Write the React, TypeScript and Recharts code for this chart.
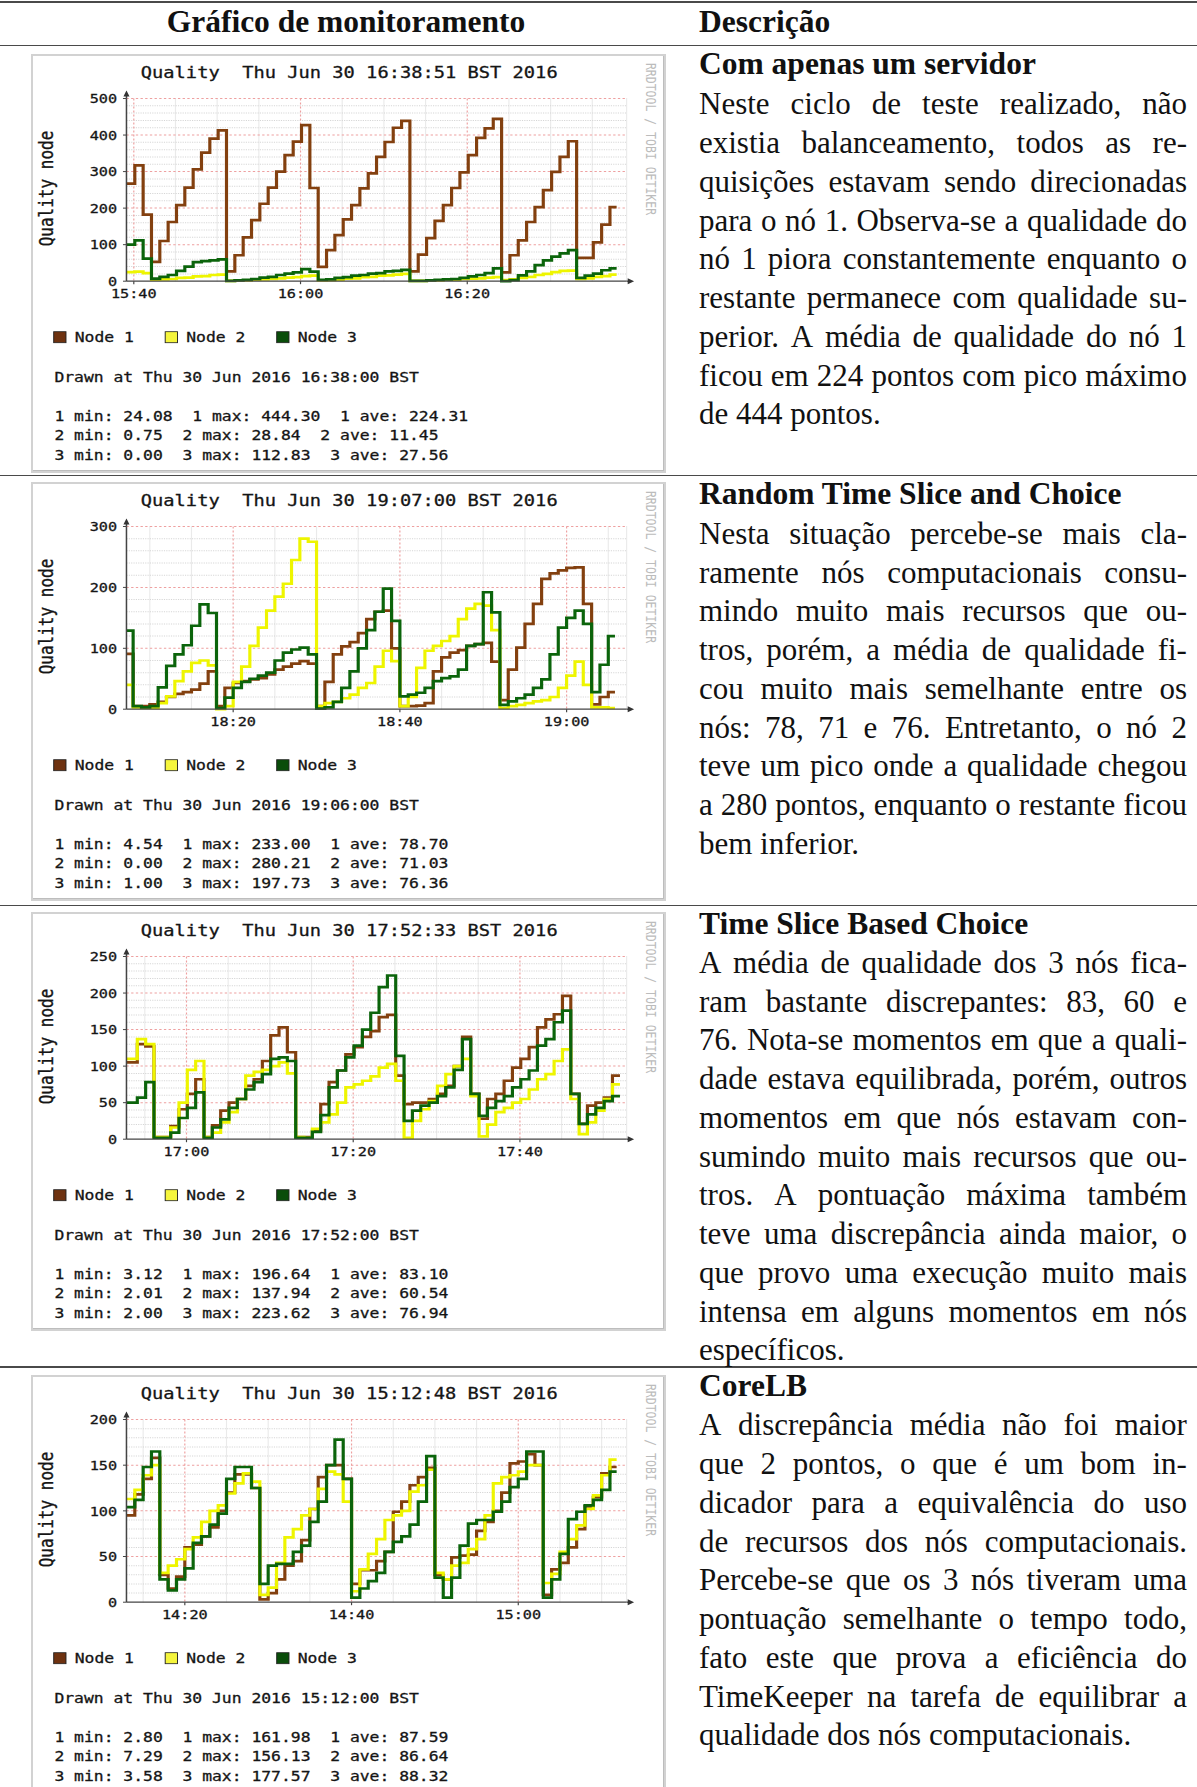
import React from "react";
import { LineChart, Line, XAxis, YAxis, CartesianGrid } from "recharts";

// ---------- data (one value per minute) ----------

// Com apenas um servidor
const c1Node1 = [267, 317, 182, 53, 110, 162, 208, 256, 306, 352, 390, 413, 27, 71, 120, 167, 212, 256, 300, 345, 382, 427, 255, 39, 85, 126, 169, 208, 254, 295, 340, 381, 420, 439, 27, 73, 118, 165, 208, 255, 298, 345, 392, 418, 444, 24, 71, 112, 162, 203, 249, 299, 340, 383, 64, 64, 106, 155, 203];
const c1Node2 = [25, 26, 22, 4, 5, 6, 9, 10, 13, 14, 17, 18, 1, 2, 2, 4, 5, 6, 8, 10, 11, 14, 15, 2, 3, 4, 7, 8, 11, 12, 15, 16, 18, 20, 1, 1, 2, 2, 4, 4, 6, 7, 8, 10, 11, 3, 5, 9, 12, 17, 20, 25, 28, 29, 6, 8, 12, 14, 18];
const c1Node3 = [100, 112, 62, 7, 12, 17, 28, 40, 52, 55, 57, 60, 1, 2, 4, 6, 10, 12, 17, 21, 24, 33, 26, 4, 5, 9, 11, 15, 17, 21, 22, 27, 28, 31, 1, 1, 2, 4, 5, 6, 9, 13, 17, 22, 35, 0, 3, 16, 27, 44, 57, 67, 76, 85, 9, 15, 21, 30, 35];
const c1TimeLabels = ["15:40", "16:00", "16:20"];
const c1YTicks = [0, 100, 200, 300, 400, 500];
const c1Min = ["24.08", "0.75", "0.00"];
const c1Max = ["444.30", "28.84", "112.83"];
const c1Ave = ["224.31", "11.45", "27.56"];

// Random Time Slice and Choice
const c2Node1 = [91, 5, 5, 8, 12, 20, 25, 28, 32, 42, 62, 5, 35, 43, 46, 49, 51, 57, 65, 70, 75, 79, 75, 5, 45, 90, 103, 110, 125, 148, 160, 162, 100, 5, 5, 6, 10, 62, 85, 93, 97, 104, 107, 109, 78, 15, 65, 101, 140, 173, 214, 223, 228, 232, 233, 173, 8, 20, 28];
const c2Node2 = [40, 3, 2, 2, 10, 21, 46, 62, 76, 80, 72, 0, 5, 45, 70, 104, 134, 162, 185, 206, 245, 280, 275, 5, 10, 12, 18, 24, 35, 43, 70, 96, 79, 5, 20, 68, 96, 104, 112, 120, 148, 165, 173, 170, 130, 2, 5, 7, 10, 13, 15, 20, 35, 55, 78, 40, 3, 3, 2];
const c2Node3 = [129, 5, 3, 5, 36, 71, 90, 105, 137, 172, 158, 2, 19, 35, 45, 50, 55, 60, 80, 93, 98, 101, 90, 1, 3, 12, 35, 62, 100, 130, 160, 198, 145, 21, 24, 27, 35, 46, 51, 54, 65, 104, 107, 192, 159, 7, 13, 18, 24, 35, 49, 90, 134, 150, 162, 140, 28, 73, 120];
const c2TimeLabels = ["18:20", "18:40", "19:00"];
const c2YTicks = [0, 100, 200, 300];
const c2Min = ["4.54", "0.00", "1.00"];
const c2Max = ["233.00", "280.21", "197.73"];
const c2Ave = ["78.70", "71.03", "76.36"];

// Time Slice Based Choice
const c3Node1 = [105, 130, 127, 3, 3, 18, 41, 62, 82, 3, 19, 39, 50, 55, 73, 82, 107, 142, 153, 119, 3, 3, 11, 48, 78, 94, 116, 126, 140, 148, 167, 170, 87, 48, 50, 50, 55, 62, 73, 100, 140, 62, 28, 55, 62, 80, 98, 110, 126, 153, 164, 171, 196, 62, 21, 46, 50, 57, 87];
const c3Node2 = [110, 137, 130, 3, 3, 16, 50, 95, 107, 3, 9, 23, 37, 55, 87, 92, 95, 100, 105, 90, 3, 2, 14, 23, 34, 50, 71, 75, 80, 86, 98, 103, 80, 2, 25, 41, 52, 73, 89, 100, 110, 59, 4, 20, 37, 43, 50, 55, 68, 82, 89, 107, 123, 55, 7, 23, 39, 55, 75];
const c3Node3 = [50, 57, 78, 2, 2, 9, 29, 43, 64, 2, 16, 27, 43, 55, 68, 78, 89, 110, 112, 107, 2, 2, 10, 33, 71, 94, 112, 128, 150, 173, 208, 224, 114, 25, 39, 46, 50, 59, 71, 95, 137, 62, 32, 43, 52, 59, 71, 82, 94, 128, 137, 160, 176, 62, 21, 34, 43, 52, 59];
const c3TimeLabels = ["17:00", "17:20", "17:40"];
const c3YTicks = [0, 50, 100, 150, 200, 250];
const c3Min = ["3.12", "2.01", "2.00"];
const c3Max = ["196.64", "137.94", "223.62"];
const c3Ave = ["83.10", "60.54", "76.94"];

// CoreLB
const c4Node1 = [95, 118, 135, 158, 30, 15, 28, 60, 63, 72, 82, 100, 120, 140, 140, 125, 3, 10, 25, 40, 45, 68, 102, 137, 150, 150, 135, 20, 35, 35, 45, 55, 99, 110, 128, 137, 147, 30, 25, 49, 51, 52, 78, 88, 100, 120, 152, 154, 162, 150, 8, 36, 43, 60, 80, 105, 115, 141, 148];
const c4Node2 = [113, 123, 139, 150, 32, 40, 47, 58, 71, 88, 100, 106, 119, 130, 141, 132, 8, 16, 43, 71, 80, 95, 102, 124, 143, 140, 110, 12, 36, 53, 69, 90, 95, 100, 121, 128, 145, 32, 25, 40, 43, 58, 69, 95, 130, 137, 139, 143, 150, 150, 21, 31, 55, 69, 84, 102, 117, 139, 156];
const c4Node3 = [104, 112, 148, 165, 25, 13, 25, 37, 65, 72, 85, 97, 135, 148, 148, 125, 20, 40, 42, 42, 55, 62, 88, 110, 150, 178, 135, 5, 15, 23, 32, 55, 66, 72, 85, 110, 160, 27, 5, 27, 62, 86, 90, 90, 99, 110, 126, 135, 165, 165, 5, 25, 53, 91, 99, 106, 112, 123, 143];
const c4TimeLabels = ["14:20", "14:40", "15:00"];
const c4YTicks = [0, 50, 100, 150, 200];
const c4Min = ["2.80", "7.29", "3.58"];
const c4Max = ["161.98", "156.13", "177.57"];
const c4Ave = ["87.59", "86.64", "88.32"];

const nodeNames = ["Node 1", "Node 2", "Node 3"];

// ---------- text column ----------
const headerLeft = "Gráfico de monitoramento";
const headerRight = "Descrição";

const rowTitles = ["Com apenas um servidor", "Random Time Slice and Choice", "Time Slice Based Choice", "CoreLB"];
const rowLines = [
  [
    "Neste ciclo de teste realizado, não",
    "existia balanceamento, todos as re-",
    "quisições estavam sendo direcionadas",
    "para o nó 1. Observa-se a qualidade do",
    "nó 1 piora constantemente enquanto o",
    "restante permanece com qualidade su-",
    "perior.  A média de qualidade do nó 1",
    "ficou em 224 pontos com pico máximo",
    "de 444 pontos.",
  ],
  [
    "Nesta situação percebe-se mais cla-",
    "ramente nós computacionais consu-",
    "mindo muito mais recursos que ou-",
    "tros, porém, a média de qualidade fi-",
    "cou muito mais semelhante entre os",
    "nós: 78, 71 e 76. Entretanto, o nó 2",
    "teve um pico onde a qualidade chegou",
    "a 280 pontos, enquanto o restante ficou",
    "bem inferior.",
  ],
  [
    "A média de qualidade dos 3 nós fica-",
    "ram bastante discrepantes: 83, 60 e",
    "76. Nota-se momentos em que a quali-",
    "dade estava equilibrada, porém, outros",
    "momentos em que nós estavam con-",
    "sumindo muito mais recursos que ou-",
    "tros.  A pontuação máxima também",
    "teve uma discrepância ainda maior, o",
    "que provo uma execução muito mais",
    "intensa em alguns momentos em nós",
    "específicos.",
  ],
  [
    "A discrepância média não foi maior",
    "que 2 pontos, o que é um bom in-",
    "dicador para a equivalência do uso",
    "de recursos dos nós computacionais.",
    "Percebe-se que os 3 nós tiveram uma",
    "pontuação semelhante o tempo todo,",
    "fato este que prova a eficiência do",
    "TimeKeeper na tarefa de equilibrar a",
    "qualidade dos nós computacionais.",
  ],
];

// ---------- styling / layout ----------
const MONO = "'DejaVu Sans Mono', monospace";
const SERIF = "'Liberation Serif', 'Times New Roman', serif";
const COLORS = ["#83400f", "#eef500", "#0b640b"];
const SWATCH = ["#6e3210", "#f5f53c", "#0a4d0a"];
const INK = "#151515";

const SX = 1.17; // screenshots are stretched horizontally in the document
const PW = 542.7;
const PH = 419;
const PLOT_L = 81.6;
const PLOT_R = 509.1;
const PLOT_T = 44.5;
const PLOT_B = 227.2;

type PanelCfg = {
  top: number;
  title: string;
  drawn: string;
  start: number;
  off: number;
  end: number;
  series: number[][];
  timeLabels: string[];
  yTicks: number[];
  yMinor: number;
  min: string[];
  max: string[];
  ave: string[];
};

const toMin = (s: string) => {
  const [h, m] = s.split(":").map(Number);
  return h * 60 + m;
};

const panels: PanelCfg[] = [
  {
    top: 53.5,
    title: "Quality  Thu Jun 30 16:38:51 BST 2016",
    drawn: "Drawn at Thu 30 Jun 2016 16:38:00 BST",
    start: toMin("15:39") + 0.12,
    off: 0,
    end: 58.8,
    series: [c1Node1, c1Node2, c1Node3],
    timeLabels: c1TimeLabels,
    yTicks: c1YTicks,
    yMinor: 20,
    min: c1Min,
    max: c1Max,
    ave: c1Ave,
  },
  {
    top: 482,
    title: "Quality  Thu Jun 30 19:07:00 BST 2016",
    drawn: "Drawn at Thu 30 Jun 2016 19:06:00 BST",
    start: toMin("18:07") + 0.2,
    off: -0.2,
    end: 58.6,
    series: [c2Node1, c2Node2, c2Node3],
    timeLabels: c2TimeLabels,
    yTicks: c2YTicks,
    yMinor: 20,
    min: c2Min,
    max: c2Max,
    ave: c2Ave,
  },
  {
    top: 911.5,
    title: "Quality  Thu Jun 30 17:52:33 BST 2016",
    drawn: "Drawn at Thu 30 Jun 2016 17:52:00 BST",
    start: toMin("16:52") + 0.8,
    off: 0.3,
    end: 59.2,
    series: [c3Node1, c3Node2, c3Node3],
    timeLabels: c3TimeLabels,
    yTicks: c3YTicks,
    yMinor: 10,
    min: c3Min,
    max: c3Max,
    ave: c3Ave,
  },
  {
    top: 1374.5,
    title: "Quality  Thu Jun 30 15:12:48 BST 2016",
    drawn: "Drawn at Thu 30 Jun 2016 15:12:00 BST",
    start: toMin("14:13"),
    off: 0,
    end: 58.8,
    series: [c4Node1, c4Node2, c4Node3],
    timeLabels: c4TimeLabels,
    yTicks: c4YTicks,
    yMinor: 10,
    min: c4Min,
    max: c4Max,
    ave: c4Ave,
  },
];

function buildRows(cfg: PanelCfg) {
  const [a, b, c] = cfg.series;
  const rows = a.map((v, i) => ({
    t: i === 0 ? 0 : i + cfg.off,
    n1: v,
    n2: b[i],
    n3: c[i],
  }));
  const last = a.length - 1;
  rows.push({ t: cfg.end, n1: a[last], n2: b[last], n3: c[last] });
  return rows;
}

const YTick = (p: any) => (
  <text x={p.x} y={p.y} dy="0.36em" textAnchor="end" fontFamily={MONO} fontSize={13} fill={INK} stroke={INK} strokeWidth={0.3}>
    {p.payload.value}
  </text>
);

function RrdPanel({ cfg }: { cfg: PanelCfg }) {
  const rows = buildRows(cfg);
  const majorX = cfg.timeLabels.map((l) => +(toMin(l) - cfg.start).toFixed(2));
  const minorX: number[] = [];
  for (let m = Math.ceil(cfg.start / 5) * 5; m - cfg.start < 60; m += 5) {
    const v = +(m - cfg.start).toFixed(2);
    if (!majorX.some((M) => Math.abs(M - v) < 0.01)) minorX.push(v);
  }
  minorX.push(60);
  const yMax = cfg.yTicks[cfg.yTicks.length - 1];
  const minorY: number[] = [];
  for (let v = cfg.yMinor; v < yMax; v += cfg.yMinor) {
    if (!cfg.yTicks.includes(v)) minorY.push(v);
  }

  const XTick = (p: any) => (
    <text x={p.x} y={p.y} dy="0.36em" textAnchor="middle" fontFamily={MONO} fontSize={13} fill={INK} stroke={INK} strokeWidth={0.3}>
      {cfg.timeLabels[majorX.indexOf(p.payload.value)]}
    </text>
  );

  const legendX = [19.4, 114.7, 210];
  const txt = { fill: INK, stroke: INK, strokeWidth: 0.3 };

  return (
    <div style={{ position: "absolute", left: 31, top: cfg.top, width: 635, height: PH, background: "#fff", overflow: "hidden" }}>
      <div style={{ position: "absolute", left: 0, top: 0, width: PW, height: PH, transform: `scaleX(${SX})`, transformOrigin: "0 0" }}>
        <div style={{ position: "absolute", left: 0, top: 0 }}>
          <LineChart
            width={PW}
            height={PH}
            data={rows}
            margin={{ top: PLOT_T, right: PW - PLOT_R, left: PLOT_L - 60, bottom: PH - PLOT_B - 30 }}
          >
            <CartesianGrid stroke="#d6d6d6" strokeDasharray="1 1" horizontalValues={minorY} verticalValues={minorX} />
            <CartesianGrid stroke="#eea0a0" strokeDasharray="2 2" horizontalValues={cfg.yTicks.slice(1)} verticalValues={majorX} />
            <XAxis
              dataKey="t"
              type="number"
              domain={[0, 60]}
              ticks={majorX}
              interval={0}
              height={30}
              tick={XTick}
              tickSize={3}
              tickMargin={9.6}
              tickLine={{ stroke: "#444" }}
              axisLine={{ stroke: "#444", strokeWidth: 1.3 }}
            />
            <YAxis
              type="number"
              domain={[0, yMax]}
              ticks={cfg.yTicks}
              interval={0}
              width={60}
              tick={YTick}
              tickSize={3}
              tickMargin={5}
              tickLine={{ stroke: "#444" }}
              axisLine={{ stroke: "#444", strokeWidth: 1.3 }}
            />
            {["n1", "n2", "n3"].map((k, i) => (
              <Line
                key={k}
                dataKey={k}
                type="stepAfter"
                stroke={COLORS[i]}
                strokeWidth={2.7}
                dot={false}
                activeDot={false}
                isAnimationActive={false}
              />
            ))}
          </LineChart>
        </div>
        <svg width={PW} height={PH} style={{ position: "absolute", left: 0, top: 0 }} fontFamily={MONO}>
          <text x={272} y={18.2} dy="0.36em" textAnchor="middle" fontSize={16} {...txt} style={{ whiteSpace: "pre" }}>
            {cfg.title}
          </text>
          <text transform="translate(12.9,134.5) rotate(-90)" dy="0.36em" textAnchor="middle" fontSize={16} {...txt}>
            Quality node
          </text>
          <text transform="translate(530,85) rotate(90)" dy="0.36em" textAnchor="middle" fontSize={11.5} fill="#bcbcbc">
            RRDTOOL / TOBI OETIKER
          </text>
          {/* axis arrows */}
          <line x1={PLOT_R} y1={PLOT_B} x2={512} y2={PLOT_B} stroke="#444" strokeWidth={1.3} />
          <polygon points={`515.5,${PLOT_B} 510,${PLOT_B - 3} 510,${PLOT_B + 3}`} fill="#333" />
          <line x1={PLOT_L} y1={PLOT_T} x2={PLOT_L} y2={40} stroke="#444" strokeWidth={1.3} />
          <polygon points={`${PLOT_L},36.5 ${PLOT_L - 2.6},42.5 ${PLOT_L + 2.6},42.5`} fill="#333" />
          {nodeNames.map((n, i) => (
            <g key={n}>
              <rect x={legendX[i]} y={277.7} width={10.5} height={11} fill={SWATCH[i]} stroke="#222" strokeWidth={0.8} />
              <text x={legendX[i] + 18} y={283.2} dy="0.36em" fontSize={14} {...txt}>
                {n}
              </text>
            </g>
          ))}
          <text x={20} y={322.5} dy="0.36em" fontSize={14} {...txt} style={{ whiteSpace: "pre" }}>
            {cfg.drawn}
          </text>
          {[0, 1, 2].map((k) => (
            <text key={k} x={20} y={361.5 + k * 19.7} dy="0.36em" fontSize={14} {...txt} style={{ whiteSpace: "pre" }}>
              {`${k + 1} min: ${cfg.min[k]}  ${k + 1} max: ${cfg.max[k]}  ${k + 1} ave: ${cfg.ave[k]}`}
            </text>
          ))}
        </svg>
      </div>
      <div
        style={{
          position: "absolute",
          left: 0,
          top: 0,
          width: 635,
          height: PH,
          boxSizing: "border-box",
          border: "2px solid #d2d2d2",
          boxShadow: "inset -1px -1px 0 #bdbdbd",
        }}
      />
    </div>
  );
}

// ---------- text column helpers ----------
const TX = 699;
const TW = 488;
const LH = 38.75;
const FS = 31;

function TextLine({ text, center, last }: { text: string; center: number; last: boolean }) {
  const words = text.split(/\s+/);
  return (
    <div
      style={{
        position: "absolute",
        left: TX,
        width: TW,
        top: center - 19.6,
        height: LH,
        lineHeight: `${LH}px`,
        fontFamily: SERIF,
        fontSize: FS,
        color: "#111",
        display: "flex",
        justifyContent: last ? "flex-start" : "space-between",
        whiteSpace: "pre",
      }}
    >
      {last ? <span>{text}</span> : words.map((w, i) => <span key={i}>{w}</span>)}
    </div>
  );
}

const ruleYs = [2, 45.5, 475.5, 905.5, 1367];
const titleYs = [65, 495, 924.5, 1387];
const firstLineYs = [105, 534.5, 963.5, 1426];

export default function App() {
  return (
    <div
      style={{
        position: "absolute",
        left: 0,
        top: 0,
        width: 1197,
        height: 1787,
        overflow: "hidden",
        background: "#fff",
      }}
    >
      {ruleYs.map((y, i) => (
        <div key={i} style={{ position: "absolute", left: 0, top: y - 1, width: 1197, height: i === 0 ? 2 : 1.6, background: "#4a4a4a" }} />
      ))}
      <div
        style={{
          position: "absolute",
          left: 146,
          width: 400,
          top: 23 - 19.6,
          lineHeight: `${LH}px`,
          textAlign: "center",
          fontFamily: SERIF,
          fontWeight: "bold",
          fontSize: 31.5,
          color: "#111",
        }}
      >
        {headerLeft}
      </div>
      <div
        style={{
          position: "absolute",
          left: TX,
          top: 23 - 19.6,
          lineHeight: `${LH}px`,
          fontFamily: SERIF,
          fontWeight: "bold",
          fontSize: 31.5,
          color: "#111",
        }}
      >
        {headerRight}
      </div>

      {panels.map((p, i) => (
        <RrdPanel key={i} cfg={p} />
      ))}

      {rowTitles.map((t, r) => (
        <React.Fragment key={r}>
          <div
            style={{
              position: "absolute",
              left: TX,
              top: titleYs[r] - 19.6,
              lineHeight: `${LH}px`,
              fontFamily: SERIF,
              fontWeight: "bold",
              fontSize: 31.5,
              color: "#111",
              whiteSpace: "pre",
            }}
          >
            {t}
          </div>
          {rowLines[r].map((l, k) => (
            <TextLine key={k} text={l} center={firstLineYs[r] + k * LH} last={k === rowLines[r].length - 1} />
          ))}
        </React.Fragment>
      ))}
    </div>
  );
}
